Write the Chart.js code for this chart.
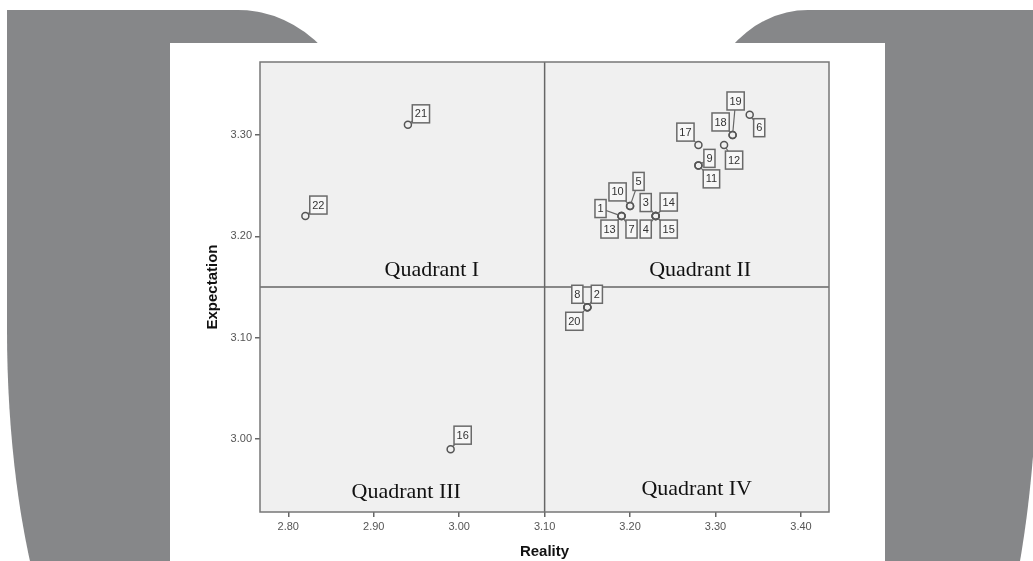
<!DOCTYPE html>
<html>
<head>
<meta charset="utf-8">
<script src="https://cdn.jsdelivr.net/npm/chart.js@4/dist/chart.umd.min.js"></script>
<style>
  html, body { margin: 0; padding: 0; background: #fff; }
  #page { position: relative; width: 1033px; height: 561px; overflow: hidden; }
  .blob { position: absolute; background: #868789; }
  #blobLeft {
    left: 7px; top: 10px; width: 351px; height: 720px;
    border-top-right-radius: 120px 130px;
    border-bottom-left-radius: 125px 400px;
  }
  #blobRight {
    left: 698px; top: 10px; width: 340px; height: 720px;
    border-top-left-radius: 110px 130px;
    border-bottom-right-radius: 98px 400px;
  }
  #panel { position: absolute; left: 170px; top: 43px; width: 715px; height: 530px; background: #fff; }
  #chart { position: absolute; left: 0; top: 0; }
</style>
</head>
<body>
<div id="page">
  <div class="blob" id="blobLeft"></div>
  <div class="blob" id="blobRight"></div>
  <div id="panel"></div>
  <canvas id="chart" width="1033" height="561"></canvas>
</div>
<script>
// case numbers and mean scores
const ids = [1, 2, 3, 4, 5, 6, 7, 8, 9, 10, 11, 12, 13, 14, 15, 16, 17, 18, 19, 20, 21, 22];
const reality = [3.19, 3.15, 3.23, 3.23, 3.20, 3.34, 3.19, 3.15, 3.28, 3.20, 3.28,
                 3.31, 3.19, 3.23, 3.23, 2.99, 3.28, 3.32, 3.32, 3.15, 2.94, 2.82];
const expectation = [3.22, 3.13, 3.22, 3.22, 3.23, 3.32, 3.22, 3.13, 3.27, 3.23, 3.27,
                     3.29, 3.22, 3.22, 3.22, 2.99, 3.29, 3.30, 3.30, 3.13, 3.31, 3.22];

const xTicks = [2.80, 2.90, 3.00, 3.10, 3.20, 3.30, 3.40];
const yTicks = [3.00, 3.10, 3.20, 3.30];

// quadrant dividers (mean lines)
const xMid = 3.10;
const yMid = 3.15;

const quadrantNames = ['Quadrant I', 'Quadrant II', 'Quadrant III', 'Quadrant IV'];

// where the quadrant names sit, in data units
const quadrantAnchor = [[2.968, 3.167], [3.282, 3.167], [2.938, 2.948], [3.278, 2.950]];

// label box offset from its point, px (same order as ids)
const labelOffset = [
  [-21, -7.5], [9.5, -13], [-10, -13.5], [-10, 13], [8.5, -24.5], [9.5, 13],
  [10, 13], [-10, -13], [11, -7], [-12.5, -14], [13, 13.5], [10, 15],
  [-12, 13], [13, -14], [13, 13], [12, -14], [-13, -13], [-12, -13],
  [3, -34], [-13, 14], [13, -11], [13, -11]
];

const quadrantPlugin = {
  id: 'quadrants',
  beforeDatasetsDraw(chart) {
    const { ctx, chartArea: a, scales } = chart;
    ctx.save();
    ctx.fillStyle = '#f0f0f0';
    ctx.fillRect(a.left, a.top, a.right - a.left, a.bottom - a.top);

    ctx.strokeStyle = '#666';
    ctx.lineWidth = 1.5;
    const xm = scales.x.getPixelForValue(xMid);
    const ym = scales.y.getPixelForValue(yMid);
    ctx.beginPath();
    ctx.moveTo(xm, a.top); ctx.lineTo(xm, a.bottom);
    ctx.moveTo(a.left, ym); ctx.lineTo(a.right, ym);
    ctx.stroke();

    ctx.strokeStyle = '#777';
    ctx.strokeRect(a.left, a.top, a.right - a.left, a.bottom - a.top);

    ctx.fillStyle = '#111';
    ctx.font = '22px "Liberation Serif", "Times New Roman", serif';
    ctx.textAlign = 'center';
    ctx.textBaseline = 'middle';
    quadrantNames.forEach((name, i) => {
      ctx.fillText(name, scales.x.getPixelForValue(quadrantAnchor[i][0]),
                         scales.y.getPixelForValue(quadrantAnchor[i][1]));
    });
    ctx.restore();
  },
  afterDatasetsDraw(chart) {
    const { ctx } = chart;
    const meta = chart.getDatasetMeta(0);
    ctx.save();
    ctx.font = '11px "Liberation Sans", Arial, sans-serif';
    ctx.textAlign = 'center';
    ctx.textBaseline = 'middle';

    // leader lines first
    ctx.strokeStyle = '#666';
    ctx.lineWidth = 1.2;
    meta.data.forEach((pt, i) => {
      const bx = pt.x + labelOffset[i][0], by = pt.y + labelOffset[i][1];
      const dx = bx - pt.x, dy = by - pt.y;
      const d = Math.sqrt(dx * dx + dy * dy) || 1;
      ctx.beginPath();
      ctx.moveTo(pt.x + dx / d * 3.5, pt.y + dy / d * 3.5);
      ctx.lineTo(bx, by);
      ctx.stroke();
    });

    // boxes
    meta.data.forEach((pt, i) => {
      const txt = String(ids[i]);
      const w = ctx.measureText(txt).width + 5;
      const h = 18;
      const bx = pt.x + labelOffset[i][0], by = pt.y + labelOffset[i][1];
      ctx.fillStyle = '#f7f7f7';
      ctx.fillRect(bx - w / 2, by - h / 2, w, h);
      ctx.strokeStyle = '#6a6a6a';
      ctx.lineWidth = 1.5;
      ctx.strokeRect(bx - w / 2, by - h / 2, w, h);
      ctx.fillStyle = '#333';
      ctx.fillText(txt, bx, by + 0.5);
    });

    // axis titles
    const a = chart.chartArea;
    ctx.fillStyle = '#111';
    ctx.font = 'bold 15px "Liberation Sans", Arial, sans-serif';
    ctx.fillText('Reality', (a.left + a.right) / 2, 552);
    ctx.translate(213, (a.top + a.bottom) / 2);
    ctx.rotate(-Math.PI / 2);
    ctx.fillText('Expectation', 0, 0);
    ctx.restore();
  }
};

const tickFont = { family: '"Liberation Sans", Arial, sans-serif', size: 11 };

new Chart(document.getElementById('chart').getContext('2d'), {
  type: 'scatter',
  data: {
    datasets: [{
      data: reality.map((x, i) => ({ x: x, y: expectation[i] })),
      pointRadius: 3.5,
      pointHoverRadius: 3.5,
      borderWidth: 1.5,
      borderColor: '#555',
      backgroundColor: 'rgba(0,0,0,0)'
    }]
  },
  options: {
    responsive: false,
    animation: false,
    devicePixelRatio: 1,
    events: [],
    layout: { padding: { left: 0, top: 62, right: 204, bottom: 0 } },
    plugins: { legend: { display: false }, tooltip: { enabled: false } },
    scales: {
      x: {
        type: 'linear',
        min: 2.7669,
        max: 3.4328,
        afterBuildTicks: (s) => { s.ticks = xTicks.map(v => ({ value: v })); },
        afterFit: (s) => { s.height = 49; },
        ticks: { callback: v => v.toFixed(2), font: tickFont, color: '#555', padding: 3, maxRotation: 0 },
        grid: { drawOnChartArea: false, drawTicks: true, tickLength: 5, color: '#666', lineWidth: 1.5 },
        border: { display: false }
      },
      y: {
        type: 'linear',
        min: 2.928,
        max: 3.372,
        afterBuildTicks: (s) => { s.ticks = yTicks.map(v => ({ value: v })); },
        afterFit: (s) => { s.width = 260; },
        ticks: { callback: v => v.toFixed(2), font: tickFont, color: '#555', padding: 3 },
        grid: { drawOnChartArea: false, drawTicks: true, tickLength: 5, color: '#666', lineWidth: 1.5 },
        border: { display: false }
      }
    }
  },
  plugins: [quadrantPlugin]
});
</script>
</body>
</html>
